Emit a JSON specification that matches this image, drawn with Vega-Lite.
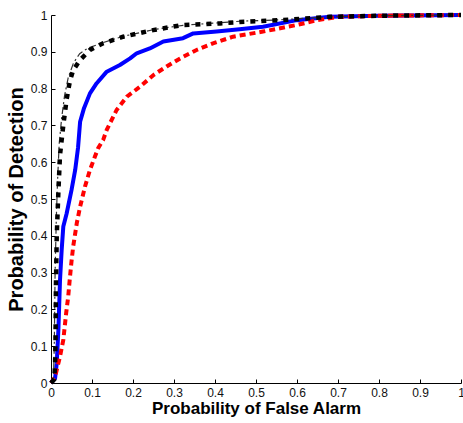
{
  "$schema": "https://vega.github.io/schema/vega-lite/v6.json",
  "autosize": {"type": "none"},
  "padding": {"left": 51, "top": 15, "right": 2, "bottom": 40},
  "width": 410,
  "height": 368,
  "background": "white",
  "config": {
    "view": {"stroke": null},
    "font": "Liberation Sans",
    "axis": {
      "grid": false,
      "domainColor": "#000000",
      "domainWidth": 1,
      "tickColor": "#000000",
      "tickSize": -4,
      "labelFont": "Liberation Sans",
      "labelFontSize": 12,
      "labelColor": "#111111",
      "titleFont": "Liberation Sans",
      "titleFontWeight": "bold",
      "titleColor": "#000000"
    }
  },
  "datasets": {
    "roc": [
      {"series": "blue", "pfa": 0, "pd": 0},
      {"series": "blue", "pfa": 0.01, "pd": 0.013},
      {"series": "blue", "pfa": 0.014, "pd": 0.054},
      {"series": "blue", "pfa": 0.018, "pd": 0.144},
      {"series": "blue", "pfa": 0.022, "pd": 0.28},
      {"series": "blue", "pfa": 0.026, "pd": 0.361},
      {"series": "blue", "pfa": 0.03, "pd": 0.425},
      {"series": "blue", "pfa": 0.038, "pd": 0.46},
      {"series": "blue", "pfa": 0.05, "pd": 0.524},
      {"series": "blue", "pfa": 0.059, "pd": 0.579},
      {"series": "blue", "pfa": 0.066, "pd": 0.64},
      {"series": "blue", "pfa": 0.071, "pd": 0.71},
      {"series": "blue", "pfa": 0.08, "pd": 0.745},
      {"series": "blue", "pfa": 0.095, "pd": 0.787},
      {"series": "blue", "pfa": 0.111, "pd": 0.814},
      {"series": "blue", "pfa": 0.136, "pd": 0.846},
      {"series": "blue", "pfa": 0.168, "pd": 0.864},
      {"series": "blue", "pfa": 0.193, "pd": 0.882},
      {"series": "blue", "pfa": 0.209, "pd": 0.896},
      {"series": "blue", "pfa": 0.241, "pd": 0.909},
      {"series": "blue", "pfa": 0.274, "pd": 0.928},
      {"series": "blue", "pfa": 0.322, "pd": 0.937},
      {"series": "blue", "pfa": 0.347, "pd": 0.95},
      {"series": "blue", "pfa": 0.404, "pd": 0.955},
      {"series": "blue", "pfa": 0.46, "pd": 0.961},
      {"series": "blue", "pfa": 0.517, "pd": 0.968},
      {"series": "blue", "pfa": 0.6, "pd": 0.986},
      {"series": "blue", "pfa": 0.68, "pd": 0.995},
      {"series": "blue", "pfa": 0.8, "pd": 0.998},
      {"series": "blue", "pfa": 1, "pd": 1},
      {"series": "red", "pfa": 0, "pd": 0},
      {"series": "red", "pfa": 0.01, "pd": 0.017},
      {"series": "red", "pfa": 0.022, "pd": 0.072},
      {"series": "red", "pfa": 0.03, "pd": 0.117},
      {"series": "red", "pfa": 0.037, "pd": 0.19},
      {"series": "red", "pfa": 0.042, "pd": 0.235},
      {"series": "red", "pfa": 0.046, "pd": 0.285},
      {"series": "red", "pfa": 0.05, "pd": 0.33},
      {"series": "red", "pfa": 0.054, "pd": 0.37},
      {"series": "red", "pfa": 0.063, "pd": 0.435},
      {"series": "red", "pfa": 0.071, "pd": 0.479},
      {"series": "red", "pfa": 0.083, "pd": 0.534},
      {"series": "red", "pfa": 0.095, "pd": 0.579},
      {"series": "red", "pfa": 0.107, "pd": 0.615},
      {"series": "red", "pfa": 0.115, "pd": 0.638},
      {"series": "red", "pfa": 0.127, "pd": 0.66},
      {"series": "red", "pfa": 0.136, "pd": 0.688},
      {"series": "red", "pfa": 0.16, "pd": 0.742},
      {"series": "red", "pfa": 0.185, "pd": 0.778},
      {"series": "red", "pfa": 0.217, "pd": 0.805},
      {"series": "red", "pfa": 0.25, "pd": 0.837},
      {"series": "red", "pfa": 0.282, "pd": 0.86},
      {"series": "red", "pfa": 0.315, "pd": 0.882},
      {"series": "red", "pfa": 0.355, "pd": 0.905},
      {"series": "red", "pfa": 0.395, "pd": 0.923},
      {"series": "red", "pfa": 0.444, "pd": 0.941},
      {"series": "red", "pfa": 0.517, "pd": 0.955},
      {"series": "red", "pfa": 0.6, "pd": 0.973},
      {"series": "red", "pfa": 0.65, "pd": 0.986},
      {"series": "red", "pfa": 0.7, "pd": 0.995},
      {"series": "red", "pfa": 0.8, "pd": 0.998},
      {"series": "red", "pfa": 1, "pd": 1},
      {"series": "thin", "pfa": 0, "pd": 0},
      {"series": "thin", "pfa": 0.006, "pd": 0.01},
      {"series": "thin", "pfa": 0.008, "pd": 0.1},
      {"series": "thin", "pfa": 0.01, "pd": 0.3},
      {"series": "thin", "pfa": 0.013, "pd": 0.45},
      {"series": "thin", "pfa": 0.016, "pd": 0.55},
      {"series": "thin", "pfa": 0.02, "pd": 0.65},
      {"series": "thin", "pfa": 0.026, "pd": 0.72},
      {"series": "thin", "pfa": 0.033, "pd": 0.78},
      {"series": "thin", "pfa": 0.042, "pd": 0.83},
      {"series": "thin", "pfa": 0.055, "pd": 0.87},
      {"series": "thin", "pfa": 0.07, "pd": 0.895},
      {"series": "thin", "pfa": 0.09, "pd": 0.91},
      {"series": "thin", "pfa": 0.127, "pd": 0.925},
      {"series": "thin", "pfa": 0.176, "pd": 0.942},
      {"series": "thin", "pfa": 0.249, "pd": 0.96},
      {"series": "thin", "pfa": 0.322, "pd": 0.972},
      {"series": "thin", "pfa": 0.412, "pd": 0.979},
      {"series": "thin", "pfa": 0.46, "pd": 0.983},
      {"series": "thin", "pfa": 0.56, "pd": 0.987},
      {"series": "thin", "pfa": 0.68, "pd": 0.995},
      {"series": "thin", "pfa": 0.8, "pd": 0.998},
      {"series": "thin", "pfa": 1, "pd": 1},
      {"series": "black", "pfa": 0, "pd": 0},
      {"series": "black", "pfa": 0.008, "pd": 0.01},
      {"series": "black", "pfa": 0.01, "pd": 0.05},
      {"series": "black", "pfa": 0.011, "pd": 0.12},
      {"series": "black", "pfa": 0.012, "pd": 0.26},
      {"series": "black", "pfa": 0.014, "pd": 0.4},
      {"series": "black", "pfa": 0.018, "pd": 0.52},
      {"series": "black", "pfa": 0.022, "pd": 0.62},
      {"series": "black", "pfa": 0.026, "pd": 0.66},
      {"series": "black", "pfa": 0.03, "pd": 0.7},
      {"series": "black", "pfa": 0.038, "pd": 0.77},
      {"series": "black", "pfa": 0.046, "pd": 0.82},
      {"series": "black", "pfa": 0.054, "pd": 0.85},
      {"series": "black", "pfa": 0.071, "pd": 0.878},
      {"series": "black", "pfa": 0.095, "pd": 0.905},
      {"series": "black", "pfa": 0.127, "pd": 0.923},
      {"series": "black", "pfa": 0.176, "pd": 0.941},
      {"series": "black", "pfa": 0.249, "pd": 0.959},
      {"series": "black", "pfa": 0.322, "pd": 0.973},
      {"series": "black", "pfa": 0.412, "pd": 0.977},
      {"series": "black", "pfa": 0.46, "pd": 0.981},
      {"series": "black", "pfa": 0.56, "pd": 0.986},
      {"series": "black", "pfa": 0.68, "pd": 0.995},
      {"series": "black", "pfa": 0.8, "pd": 0.998},
      {"series": "black", "pfa": 1, "pd": 1}
    ]
  },
  "data": {"name": "roc"},
  "encoding": {
    "x": {
      "field": "pfa", "type": "quantitative",
      "scale": {"domain": [0, 1], "nice": false, "zero": false},
      "axis": {
        "title": "Probability of False Alarm",
        "titleFontSize": 17,
        "titlePadding": 2,
        "values": [0, 0.1, 0.2, 0.3, 0.4, 0.5, 0.6, 0.7, 0.8, 0.9, 1],
        "format": ".1~f",
        "labelPadding": 8,
        "labelFlush": false
      }
    },
    "y": {
      "field": "pd", "type": "quantitative",
      "scale": {"domain": [0, 1], "nice": false, "zero": false},
      "axis": {
        "title": "Probability of Detection",
        "titleFontSize": 20,
        "titlePadding": 4,
        "values": [0, 0.1, 0.2, 0.3, 0.4, 0.5, 0.6, 0.7, 0.8, 0.9, 1],
        "format": ".1~f",
        "labelPadding": 8,
        "labelFlush": false
      }
    }
  },
  "layer": [
    {
      "transform": [{"filter": "datum.series === 'blue'"}],
      "mark": {"type": "line", "color": "#0000ff", "strokeWidth": 4, "strokeJoin": "round", "strokeCap": "butt", "clip": false}
    },
    {
      "transform": [{"filter": "datum.series === 'red'"}],
      "mark": {"type": "line", "color": "#ff0000", "strokeWidth": 4, "strokeDash": [6, 4], "strokeCap": "butt", "clip": false}
    },
    {
      "transform": [{"filter": "datum.series === 'thin'"}],
      "mark": {"type": "line", "color": "#333333", "strokeWidth": 1.2, "strokeDash": [7, 3, 2, 3], "strokeCap": "butt", "clip": false}
    },
    {
      "transform": [{"filter": "datum.series === 'black'"}],
      "mark": {"type": "line", "color": "#000000", "strokeWidth": 4.5, "strokeDash": [5, 6], "strokeCap": "butt", "clip": false}
    }
  ]
}
